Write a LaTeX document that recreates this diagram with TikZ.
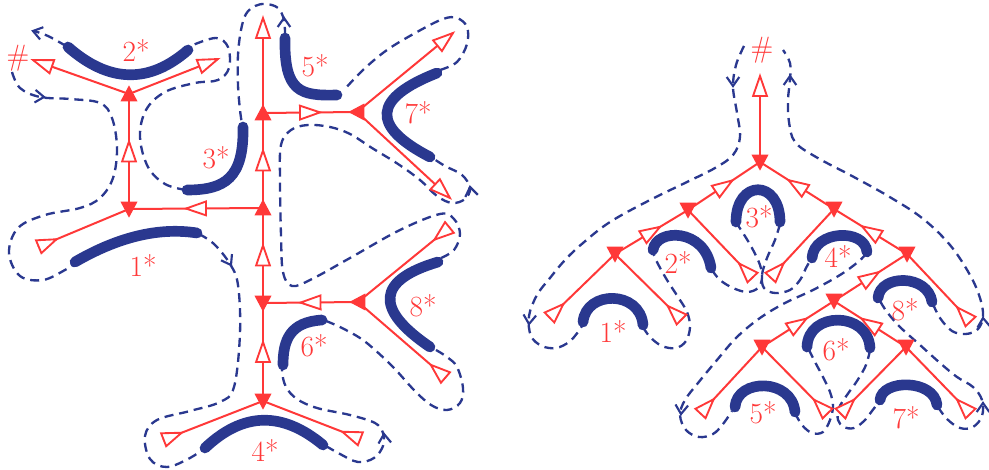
\documentclass[tikz,border=0pt]{standalone}
\usepackage{fontspec}
\usetikzlibrary{decorations.markings,calc}
\definecolor{rc}{RGB}{255,56,56}
\definecolor{bc}{RGB}{42,56,143}
\tikzset{
  redl/.style={draw=rc, line width=1.5pt},
  thickb/.style={draw=bc, line width=8pt, line cap=round},
  dashb/.style={draw=bc, line width=1.75pt, dash pattern=on 6.8pt off 4.4pt},
  barr/.style={draw=bc, line width=1.6pt, solid},
  lab/.style={text=rc, font=\fontsize{22}{26}\selectfont, inner sep=0pt},
  tri/.style={draw=rc, line width=1.4pt, fill=white, line join=miter},
  omid/.style={postaction={decorate, decoration={markings,
     mark=at position 0.5 with {\draw[tri] (7.5pt,0pt) -- (-7.5pt,5.2pt) -- (-7.5pt,-5.2pt) -- cycle;}}}},
  oout/.style={postaction={decorate, decoration={markings,
     mark=at position 0.9999 with {\draw[tri] (0pt,0pt) -- (-15pt,5.2pt) -- (-15pt,-5.2pt) -- cycle;}}}},
  oin/.style={postaction={decorate, decoration={markings,
     mark=at position 0.9999 with {\draw[tri] (-0.5pt,5.2pt) -- (-0.5pt,-5.2pt) -- (-15pt,0pt) -- cycle;}}}},
}
\newcommand\vtri[2]{\fill[rc, shift={(#1)}, rotate=#2] (6.5pt,0pt) -- (-5.5pt,6.4pt) -- (-5.5pt,-6.4pt) -- cycle;}
\newcommand\varr[2]{\draw[barr] (#1) ++(#2+145:11) -- (#1) -- ++(#2-145:11);}
\begin{document}
\begin{tikzpicture}[x=0.75pt,y=-0.75pt]
\useasboundingbox (0,0) rectangle (989,470);

% ---------------- LEFT GRAPH ----------------
% thick blue arcs
\draw[thickb] (68,47) .. controls (109,83) and (149,84) .. (188,50);
\draw[thickb] (243,127) .. controls (244,178) and (225,190) .. (187,190);
\draw[thickb] (285,38) .. controls (284,92) and (300,96) .. (337,95);
\draw[thickb] (437,73) .. controls (373,98) and (370,126) .. (430,157);
\draw[thickb] (75,262) .. controls (118,237) and (159,227) .. (197,233);
\draw[thickb] (205,448) .. controls (243,412) and (282,411) .. (323,445);
\draw[thickb] (322,320) .. controls (290,322) and (283,340) .. (283,365);
\draw[thickb] (438,262) .. controls (377,280) and (374,309) .. (430,347);

% dashed contour
\draw[dashb] plot[smooth, tension=0.6] coordinates {(66,46) (48,36) (34,31)};
\draw[dashb] plot[smooth, tension=0.6] coordinates {(12,72) (20,88) (40,97) (70,99) (100,103) (112,118) (117,148) (113,178) (100,198) (80,208) (45,215) (18,228) (9,253) (20,276) (43,280) (65,270) (74,264)};
\draw[dashb] plot[smooth, tension=0.6] coordinates {(199,234) (214,244) (230,264) (238,285) (240,333) (234,387) (220,402) (190,411) (157,420) (145,436) (150,459) (167,467) (190,458) (203,449)};
\draw[dashb] plot[smooth, tension=0.6] coordinates {(326,446) (340,454) (358,462) (374,458) (383,446) (383,433) (375,423) (350,415) (317,408) (297,399) (286,387) (282,372) (283,364)};
\draw[dashb] plot[smooth, tension=0.6] coordinates {(326,321) (340,327) (360,338) (375,350) (394,368) (414,390) (431,405) (447,410) (460,403) (463,388) (457,367) (447,357) (436,350)};
\draw[dashb] plot[smooth, tension=0.6] coordinates {(441,258) (454,250) (460,234) (454,219) (440,214) (400,230) (350,258) (312,279) (292,286) (283,272) (281,235) (280,180) (281,145) (291,130) (308,125) (330,127) (350,134) (372,148) (398,164) (420,180) (437,196) (452,203) (465,199) (470,188) (462,175) (445,166) (434,159)};
\draw[dashb] plot[smooth, tension=0.6] coordinates {(440,70) (457,62) (467,44) (467,27) (457,18) (443,19) (417,32) (387,50) (363,70) (344,90)};
\draw[dashb] plot[smooth, tension=0.6] coordinates {(285,36) (284,20) (278,8) (266,4) (255,6) (246,14) (241,30) (238,55) (238,85) (240,110) (242,124)};
\draw[dashb] plot[smooth, tension=0.6] coordinates {(186,190) (165,184) (148,167) (140,137) (146,110) (165,92) (195,83) (218,80) (229,68) (228,47) (216,38) (193,45)};

% dashed arrows
\coordinate (da1) at (33,31);
\coordinate (da2) at (44,97);
\coordinate (da3) at (231,265);
\coordinate (da4) at (384,434);
\coordinate (da5) at (470,187);
\coordinate (da6) at (284,18);
\varr{da1}{195}
\varr{da2}{5}
\varr{da3}{60}
\varr{da4}{-95}
\varr{da5}{-100}
\varr{da6}{-90}

% red graph
\coordinate (A) at (129,94);
\coordinate (B) at (129,209);
\coordinate (C) at (263,208);
\coordinate (D) at (263,113);
\coordinate (E) at (357,112);
\coordinate (F) at (263,303);
\coordinate (G) at (358,302);
\coordinate (H) at (263,401);
\coordinate (L1) at (33,60);
\coordinate (L2) at (218,59);
\coordinate (L3) at (38,247);
\coordinate (L4) at (263,18);
\coordinate (L5) at (453,33);
\coordinate (L6) at (450,198);
\coordinate (L7) at (450,227);
\coordinate (L8) at (446,378);
\coordinate (L9) at (361,439);
\coordinate (L10) at (163,440);

\draw[redl, omid] (B) -- (A);
\draw[redl, omid] (C) -- (B);
\draw[redl, omid] (C) -- (D);
\draw[redl, omid] (D) -- (E);
\draw[redl, omid] (F) -- (C);
\draw[redl, omid] (G) -- (F);
\draw[redl, omid] (H) -- (F);
\draw[redl, oout] (A) -- (L1);
\draw[redl, oout] (A) -- (L2);
\draw[redl, oin] (B) -- (L3);
\draw[redl, oout] (D) -- (L4);
\draw[redl, oout] (E) -- (L5);
\draw[redl, oout] (E) -- (L6);
\draw[redl, oin] (G) -- (L7);
\draw[redl, oin] (G) -- (L8);
\draw[redl, oin] (H) -- (L9);
\draw[redl, oin] (H) -- (L10);
\vtri{A}{90} \vtri{B}{-90} \vtri{C}{90} \vtri{D}{90}
\vtri{E}{180} \vtri{F}{-90} \vtri{G}{180} \vtri{H}{-90}

% labels
\node[lab] (hashL) at (18,58) {\#};
\node[lab] (s2L) at (136,51) {2*};
\node[lab] (s3L) at (216,158) {3*};
\node[lab] (s5L) at (315,66) {5*};
\node[lab] (s7L) at (418,113) {7*};
\node[lab] (s1L) at (143,266) {1*};
\node[lab] (s8L) at (423,306) {8*};
\node[lab] (s6L) at (314,346) {6*};
\node[lab] (s4L) at (265,451) {4*};

% ---------------- RIGHT GRAPH ----------------
\draw[thickb] (583,322) .. controls (586,290) and (640,290) .. (643,325);
\draw[thickb] (653,250) .. controls (656,228) and (705,228) .. (711,268);
\draw[thickb] (736,222) .. controls (736,179) and (780,179) .. (780,222);
\draw[thickb] (812,258) .. controls (814,230) and (865,228) .. (867,252);
\draw[thickb] (878,298) .. controls (880,274) and (928,274) .. (932,302);
\draw[thickb] (735,407) .. controls (737,378) and (792,378) .. (795,412);
\draw[thickb] (807,347) .. controls (808,311) and (868,311) .. (870,348);
\draw[thickb] (880,400) .. controls (882,379) and (934,379) .. (937,405);

\draw[dashb] plot[smooth, tension=0.6] coordinates {(744,46) (736,65) (733,87) (737,113) (740,137) (733,155) (715,168) (687,182) (650,200) (610,222) (583,243) (565,260) (550,278) (537,295) (529,316) (531,336) (542,346) (556,348) (569,342) (578,332) (583,324)};
\draw[dashb] plot[smooth, tension=0.6] coordinates {(643,327) (650,337) (662,346) (676,348) (686,341) (690,327) (687,312) (678,297) (667,280) (658,264) (653,253)};
\draw[dashb] plot[smooth, tension=0.6] coordinates {(712,270) (720,280) (733,288) (747,292) (758,288) (762,278) (760,265) (752,248) (743,233) (737,224)};
\draw[dashb] plot[smooth, tension=0.6] coordinates {(780,224) (775,240) (767,258) (762,275) (764,288) (775,293) (790,290) (800,280) (806,268) (811,259)};
\draw[dashb] plot[smooth, tension=0.6] coordinates {(867,253) (858,262) (840,275) (813,290) (785,303) (760,318) (737,337) (717,360) (698,383) (685,400) (680,415) (686,430) (699,437) (713,434) (723,424) (732,411)};
\draw[dashb] plot[smooth, tension=0.6] coordinates {(795,413) (802,425) (812,433) (823,432) (830,420) (833,406) (830,392) (823,377) (815,362) (809,350)};
\draw[dashb] plot[smooth, tension=0.6] coordinates {(870,350) (866,365) (857,381) (847,395) (839,408) (838,420) (844,427) (854,428) (864,421) (872,411) (878,403)};
\draw[dashb] plot[smooth, tension=0.6] coordinates {(938,407) (947,419) (960,428) (973,427) (982,416) (982,400) (973,387) (957,377) (940,363) (920,345) (900,327) (887,312) (880,301)};
\draw[dashb] plot[smooth, tension=0.6] coordinates {(933,304) (940,318) (952,331) (966,334) (978,329) (983,316) (980,298) (970,275) (950,245) (922,218) (888,196) (852,176) (816,157) (795,142) (789,122) (788,100) (790,80) (790,63) (783,50)};

\coordinate (ra1) at (733,86);
\coordinate (ra2) at (790,76);
\coordinate (ra3) at (529,324);
\coordinate (ra4) at (681,414);
\coordinate (ra5) at (983,403);
\coordinate (ra6) at (983,318);
\varr{ra1}{90}
\varr{ra2}{-90}
\varr{ra3}{95}
\varr{ra4}{95}
\varr{ra5}{-90}
\varr{ra6}{-95}

\coordinate (R0) at (760,162);
\coordinate (R1) at (688,210);
\coordinate (R2) at (834,209);
\coordinate (R3) at (615,254);
\coordinate (R4) at (907,254);
\coordinate (R5) at (834,301);
\coordinate (R6) at (762,347);
\coordinate (R7) at (906,347);
\coordinate (Rt) at (760,76);
\coordinate (Q1) at (549,318);
\coordinate (Q2) at (682,320);
\coordinate (Q3) at (753,278);
\coordinate (Q4) at (770,278);
\coordinate (Q5) at (971,322);
\coordinate (Q6) at (700,414);
\coordinate (Q7) at (828,414);
\coordinate (Q8) at (840,414);
\coordinate (Q9) at (971,414);

\draw[redl, oout] (R0) -- (Rt);
\draw[redl, omid] (R1) -- (R0);
\draw[redl, omid] (R2) -- (R0);
\draw[redl, omid] (R3) -- (R1);
\draw[redl, omid] (R4) -- (R2);
\draw[redl, omid] (R5) -- (R4);
\draw[redl, omid] (R6) -- (R5);
\draw[redl, omid] (R7) -- (R5);
\draw[redl, oin] (R3) -- (Q1);
\draw[redl, oin] (R3) -- (Q2);
\draw[redl, oin] (R1) -- (Q3);
\draw[redl, oin] (R2) -- (Q4);
\draw[redl, oin] (R4) -- (Q5);
\draw[redl, oin] (R6) -- (Q6);
\draw[redl, oin] (R6) -- (Q7);
\draw[redl, oin] (R7) -- (Q8);
\draw[redl, oin] (R7) -- (Q9);
\vtri{R0}{-90} \vtri{R1}{-90} \vtri{R2}{-90} \vtri{R3}{-90}
\vtri{R4}{-90} \vtri{R5}{-90} \vtri{R6}{-90} \vtri{R7}{-90}

\node[lab] (hashR) at (762,50) {\#};
\node[lab] (s1R) at (613,332) {1*};
\node[lab] (s2R) at (678,263) {2*};
\node[lab] (s3R) at (759,217) {3*};
\node[lab] (s4R) at (838,257) {4*};
\node[lab] (s8R) at (905,310) {8*};
\node[lab] (s5R) at (763,413) {5*};
\node[lab] (s6R) at (836,350) {6*};
\node[lab] (s7R) at (906,418) {7*};
\end{tikzpicture}
\end{document}
